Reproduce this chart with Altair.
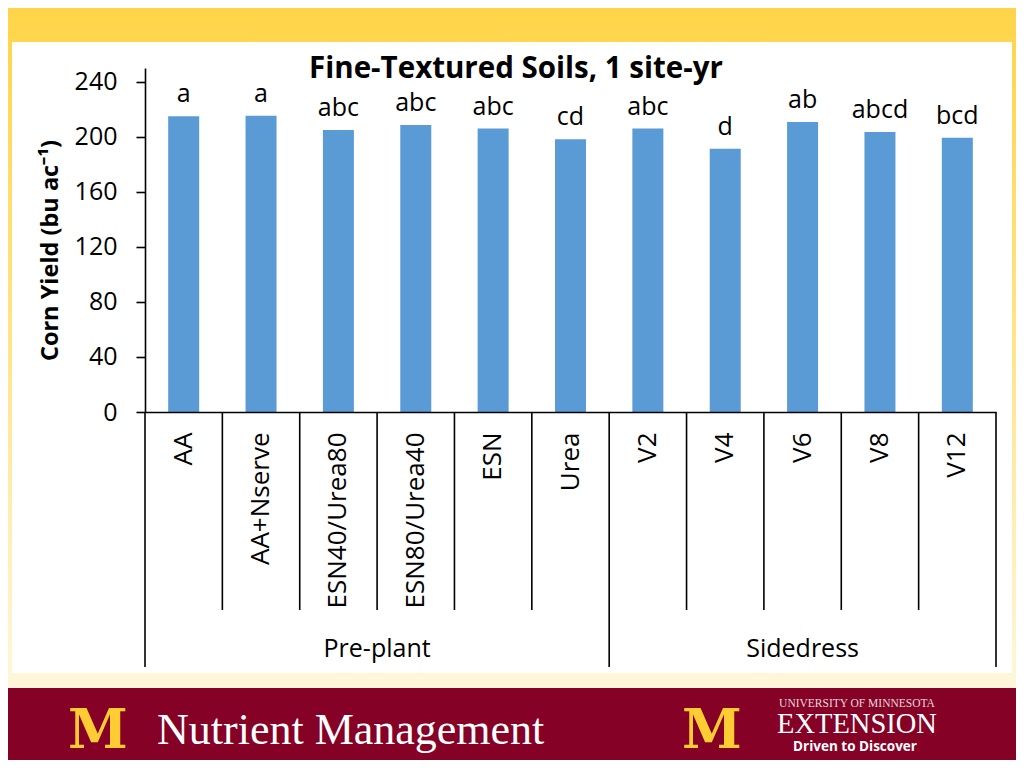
import altair as alt
import pandas as pd

# ---- data ----
categories = ["AA", "AA+Nserve", "ESN40/Urea80", "ESN80/Urea40", "ESN", "Urea",
              "V2", "V4", "V6", "V8", "V12"]
groups = ["Pre-plant"] * 6 + ["Sidedress"] * 5
yields = [215, 215.3, 205, 208.5, 206, 198.3, 206, 191.3, 210.7, 203.4, 199.3]
letters = ["a", "a", "abc", "abc", "abc", "cd", "abc", "d", "ab", "abcd", "bcd"]
y_ticks = [0, 40, 80, 120, 160, 200, 240]
chart_title = "Fine-Textured Soils, 1 site-yr"

df = pd.DataFrame({"cat": categories, "grp": groups, "yield": yields, "letter": letters})

FONT = "Open Sans"
BAR = "#5B9BD5"
W, H = 851, 344
PAD_L, PAD_T = 137, 60
TOT_W, TOT_H = 1008, 752
STEP = W / len(categories)
HALF = STEP / 2

one = pd.DataFrame({"k": [0]})

xscale = alt.Scale(domain=categories, paddingInner=0.6, paddingOuter=0.3)
xenc = dict(field="cat", type="nominal", scale=xscale, sort=categories)

# ---- slide decoration ----
grad = alt.Gradient(
    gradient="linear",
    stops=[alt.GradientStop(color="#FFD448", offset=0),
           alt.GradientStop(color="#FFE48A", offset=0.45),
           alt.GradientStop(color="#FFF6DA", offset=0.9),
           alt.GradientStop(color="#FFF8E6", offset=1)],
    x1=0, x2=0, y1=0, y2=1)

bg = alt.Chart(one).mark_rect(fill=grad).encode(
    x=alt.value(-PAD_L), x2=alt.value(TOT_W - PAD_L),
    y=alt.value(-PAD_T), y2=alt.value(TOT_H - PAD_T))

panel = alt.Chart(one).mark_rect(fill="white").encode(
    x=alt.value(12 - 8 - PAD_L), x2=alt.value(1012 - 8 - PAD_L),
    y=alt.value(42 - 8 - PAD_T), y2=alt.value(673 - 8 - PAD_T))

footer = alt.Chart(one).mark_rect(fill="#850126").encode(
    x=alt.value(-PAD_L), x2=alt.value(TOT_W - PAD_L),
    y=alt.value(688 - 8 - PAD_T), y2=alt.value(TOT_H - PAD_T + 10))

def txt(s, px, py, **kw):
    return alt.Chart(pd.DataFrame({"t": [s]})).mark_text(**kw).encode(
        x=alt.value(px - 8 - PAD_L), y=alt.value(py - 8 - PAD_T), text="t:N")

foot_texts = [
    txt("M", 98, 748, font="DejaVu Serif", fontWeight="bold", fontSize=54,
        fill="#FFCC33", align="center", baseline="alphabetic"),
    txt("Nutrient Management", 157, 744, font="Liberation Serif", fontSize=44,
        fill="white", align="left", baseline="alphabetic"),
    txt("M", 712, 748, font="DejaVu Serif", fontWeight="bold", fontSize=54,
        fill="#FFCC33", align="center", baseline="alphabetic"),
    txt("UNIVERSITY OF MINNESOTA", 857, 707, font="Liberation Serif", fontSize=11.5,
        fill="#e8d9dc", align="center", baseline="alphabetic"),
    txt("EXTENSION", 857, 733, font="Liberation Serif", fontSize=28.5,
        fill="white", align="center", baseline="alphabetic"),
    txt("Driven to Discover", 855, 751, font="Open Sans", fontWeight="bold", fontSize=13.5,
        fill="white", align="center", baseline="alphabetic"),
]

title_layer = txt(chart_title, 516, 78, font=FONT, fontSize=29.5, fontWeight="bold",
                  fill="#000", align="center", baseline="alphabetic")

# ---- chart ----
bars = alt.Chart(df).mark_bar(color=BAR, size=31).encode(
    x=alt.X(**xenc, title=None,
            axis=alt.Axis(labelAngle=-90, labelFont=FONT, labelFontSize=26,
                          labelColor="#000", ticks=False, labelPadding=20,
                          domainColor="#000", domainWidth=1.6, labelLimit=400,
                          zindex=1)),
    y=alt.Y("yield:Q", scale=alt.Scale(domain=[0, 250], nice=False),
            title="Corn Yield (bu ac⁻¹)",
            axis=alt.Axis(values=y_ticks, labelFont=FONT, labelFontSize=25,
                          labelColor="#000", tickColor="#000", tickSize=9,
                          tickWidth=1.6, domainColor="#000", domainWidth=1.6,
                          labelPadding=19, grid=False, titleFont=FONT,
                          titleFontSize=23.5, titleFontWeight="bold",
                          titleColor="#000", titlePadding=12, titleY=H / 2 + 10,
                          zindex=1)),
)

letters_layer = alt.Chart(df).mark_text(
    font=FONT, fontSize=25, color="#000", baseline="alphabetic", dy=-14
).encode(x=alt.X(**xenc), y="yield:Q", text="letter:N")

short_sep = alt.Chart(df).transform_filter(
    alt.FieldOneOfPredicate(field="cat", oneOf=categories[1:6] + categories[7:])
).mark_rule(color="#000", strokeWidth=1.6, xOffset=-HALF).encode(
    x=alt.X(**xenc, bandPosition=0.5), y=alt.value(H), y2=alt.value(610 - 8 - PAD_T))

long_sep = alt.Chart(df).transform_filter(
    alt.FieldOneOfPredicate(field="cat", oneOf=[categories[0], categories[6]])
).mark_rule(color="#000", strokeWidth=1.6, xOffset=-HALF).encode(
    x=alt.X(**xenc, bandPosition=0.5), y=alt.value(H), y2=alt.value(667 - 8 - PAD_T))

right_sep = alt.Chart(df).transform_filter(
    alt.FieldEqualPredicate(field="cat", equal=categories[-1])
).mark_rule(color="#000", strokeWidth=1.6, xOffset=HALF).encode(
    x=alt.X(**xenc, bandPosition=0.5), y=alt.value(H), y2=alt.value(667 - 8 - PAD_T))

grp_pre = alt.Chart(df).transform_filter(
    alt.FieldEqualPredicate(field="cat", equal=categories[3])
).mark_text(font=FONT, fontSize=25, color="#000", baseline="alphabetic", xOffset=-HALF).encode(
    x=alt.X(**xenc, bandPosition=0.5), y=alt.value(657 - 8 - PAD_T), text="grp:N")

grp_side = alt.Chart(df).transform_filter(
    alt.FieldEqualPredicate(field="cat", equal=categories[8])
).mark_text(font=FONT, fontSize=25, color="#000", baseline="alphabetic").encode(
    x=alt.X(**xenc, bandPosition=0.5), y=alt.value(657 - 8 - PAD_T), text="grp:N")

chart = alt.layer(
    bg, panel, footer, *foot_texts, title_layer,
    bars, letters_layer, short_sep, long_sep, right_sep, grp_pre, grp_side
).properties(
    width=W, height=H,
    autosize=alt.AutoSizeParams(type="none"),
    padding={"left": PAD_L, "top": PAD_T, "right": TOT_W - PAD_L - W,
             "bottom": TOT_H - PAD_T - H},
).configure_view(stroke=None).configure(background="white")

chart.save("out.html", embed_options={"renderer": "svg", "actions": False})
